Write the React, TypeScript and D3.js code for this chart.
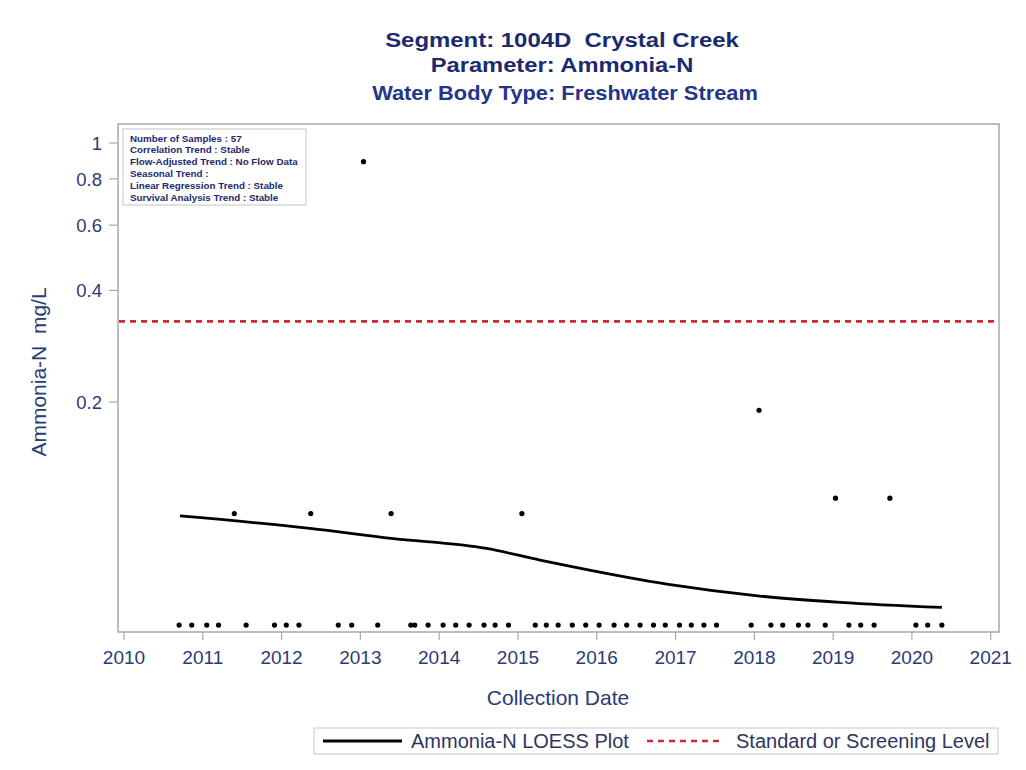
import React from "react";
import * as d3 from "d3";

const titleLines = ["Segment: 1004D  Crystal Creek", "Parameter: Ammonia-N", "Water Body Type: Freshwater Stream"];
const infoLines = [
  "Number of Samples : 57",
  "Correlation Trend : Stable",
  "Flow-Adjusted Trend : No Flow Data",
  "Seasonal Trend :",
  "Linear Regression Trend : Stable",
  "Survival Analysis Trend : Stable",
];

const sampleDates = [
  2010.7, 2010.86, 2011.05, 2011.2, 2011.4, 2011.55, 2011.91, 2012.06, 2012.22, 2012.37,
  2012.72, 2012.89, 2013.04, 2013.22, 2013.39, 2013.64, 2013.69, 2013.86, 2014.05, 2014.21,
  2014.38, 2014.57, 2014.71, 2014.88, 2015.05, 2015.22, 2015.36, 2015.51, 2015.69, 2015.86,
  2016.03, 2016.22, 2016.38, 2016.55, 2016.72, 2016.87, 2017.05, 2017.2, 2017.36, 2017.52,
  2017.96, 2018.06, 2018.21, 2018.36, 2018.56, 2018.68, 2018.9, 2019.03, 2019.2, 2019.35,
  2019.52, 2019.72, 2020.05, 2020.2, 2020.38,
];
const sampleValues = [
  0.05, 0.05, 0.05, 0.05, 0.1, 0.05, 0.05, 0.05, 0.05, 0.1,
  0.05, 0.05, 0.89, 0.05, 0.1, 0.05, 0.05, 0.05, 0.05, 0.05,
  0.05, 0.05, 0.05, 0.05, 0.1, 0.05, 0.05, 0.05, 0.05, 0.05,
  0.05, 0.05, 0.05, 0.05, 0.05, 0.05, 0.05, 0.05, 0.05, 0.05,
  0.05, 0.19, 0.05, 0.05, 0.05, 0.05, 0.05, 0.11, 0.05, 0.05,
  0.05, 0.11, 0.05, 0.05, 0.05,
];

const loessDates = [2010.71, 2012.36, 2013.39, 2014.6, 2015.28, 2015.7, 2016.89, 2018.07, 2019.09, 2020.38];
const loessValues = [0.0985, 0.0912, 0.0857, 0.0805, 0.0749, 0.0718, 0.0645, 0.0599, 0.0576, 0.0558];

const standardLevel = 0.33;

const xTickYears = [2010, 2011, 2012, 2013, 2014, 2015, 2016, 2017, 2018, 2019, 2020, 2021];
const yTickValues = [0.2, 0.4, 0.6, 0.8, 1];
const yTickLabels = ["0.2", "0.4", "0.6", "0.8", "1"];

const xDomain = [2009.924, 2021.105];
const yDomain = [0.0479, 1.125];

const FONT = "'Liberation Sans', Arial, Helvetica, sans-serif";
const NAVY = "#1c2a6e";
const TEXT = "#2b3a78";
const PRE = { whiteSpace: "pre" as const };

export default function App() {
  const W = 1026, H = 770;
  const left = 118, right = 999, top = 124, bottom = 632;
  const x = d3.scaleLinear().domain(xDomain).range([left, right]);
  const y = d3.scaleLog().domain(yDomain).range([bottom, top]);

  const loessLine = d3
    .line<number>()
    .x((_, i) => x(loessDates[i]))
    .y((d) => y(d))
    .curve(d3.curveMonotoneX)(loessValues) as string;

  return (
    <svg
      width={W}
      height={H}
      style={{ position: "absolute", left: 0, top: 0, background: "#fff" }}
      fontFamily={FONT}
    >
      <rect x={0} y={0} width={W} height={H} fill="#fff" />
      {/* titles */}
      <text transform="translate(562,47) scale(1.14,1)" textAnchor="middle" fontSize={21} fontWeight="bold" fill={NAVY} style={PRE}>{titleLines[0]}</text>
      <text transform="translate(562,72) scale(1.13,1)" textAnchor="middle" fontSize={21} fontWeight="bold" fill={NAVY} style={PRE}>{titleLines[1]}</text>
      <text transform="translate(565,99.5) scale(1.12,1)" textAnchor="middle" fontSize={19.5} fontWeight="bold" fill="#24358a" style={PRE}>{titleLines[2]}</text>

      {/* frame */}
      <rect x={left} y={top} width={right - left} height={bottom - top} fill="none" stroke="#a8a8a8" strokeWidth={1.5} />

      {/* info box */}
      <rect x={123} y={129} width={183} height={76} fill="#fff" stroke="#c4c4c4" strokeWidth={1} />
      {infoLines.map((t, i) => (
        <text key={i} x={130} y={141.5 + i * 11.8} fontSize={9.8} fontWeight="bold" fill={NAVY}>{t}</text>
      ))}

      {/* y ticks */}
      {yTickValues.map((v, i) => (
        <g key={v}>
          <line x1={left - 9} x2={left} y1={y(v)} y2={y(v)} stroke="#a8a8a8" strokeWidth={1.2} />
          <text x={102} y={y(v)} dy="0.36em" textAnchor="end" fontSize={18.5} fill={TEXT}>{yTickLabels[i]}</text>
        </g>
      ))}

      {/* x ticks */}
      {xTickYears.map((yr) => (
        <g key={yr}>
          <line x1={x(yr)} x2={x(yr)} y1={bottom} y2={bottom + 8} stroke="#a8a8a8" strokeWidth={1.2} />
          <text x={x(yr)} y={664} textAnchor="middle" fontSize={19} fill={TEXT}>{yr}</text>
        </g>
      ))}

      {/* axis labels */}
      <text x={558} y={705} textAnchor="middle" fontSize={21} fill={TEXT}>Collection Date</text>
      <text transform={`translate(46,372) rotate(-90)`} textAnchor="middle" fontSize={21} fill={TEXT} style={PRE}>
        {"Ammonia-N  mg/L"}
      </text>

      {/* standard line */}
      <line x1={left + 1} x2={right - 1} y1={y(standardLevel)} y2={y(standardLevel)} stroke="#cc2a36" strokeWidth={2.7} strokeDasharray="6,5" />

      {/* loess */}
      <path d={loessLine} fill="none" stroke="#000" strokeWidth={2.8} />

      {/* points */}
      {sampleDates.map((d, i) => (
        <circle key={i} cx={x(d)} cy={y(sampleValues[i])} r={2.6} fill="#000" />
      ))}

      {/* legend */}
      <rect x={314} y={728} width={684} height={26} fill="#fff" stroke="#c8c8c8" strokeWidth={1} />
      <line x1={323} x2={402} y1={741} y2={741} stroke="#000" strokeWidth={3} />
      <text x={411} y={748} fontSize={20} fill="#2f3560">Ammonia-N LOESS Plot</text>
      <line x1={647} x2={722} y1={741} y2={741} stroke="#cc2a36" strokeWidth={2.7} strokeDasharray="6,5" />
      <text x={736} y={748} fontSize={20} fill="#2f3560">Standard or Screening Level</text>
    </svg>
  );
}
